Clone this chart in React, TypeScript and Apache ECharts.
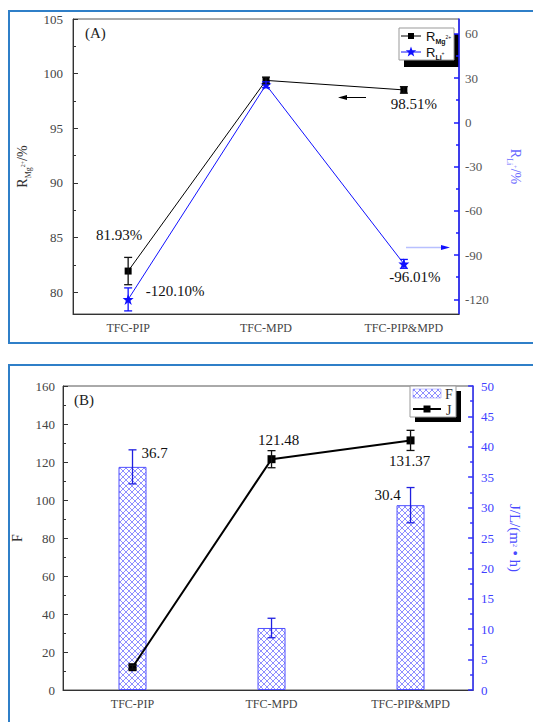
import React, { useEffect, useRef } from 'react';
import * as echarts from 'echarts';

// ---------- data ----------
const categories = ['TFC-PIP', 'TFC-MPD', 'TFC-PIP&MPD'];
const categoryPositions = [0, 1, 2];
// Panel A
const rMgValues = [81.93, 99.38, 98.51];
const rMgErrors = [1.25, 0.3, 0.3];
const rLiValues = [-120.1, 25.4, -96.01];
const rLiErrors = [7.8, 2.0, 3.0];
// Panel B
const fluxBarValues = [36.7, 10.2, 30.4];
const fluxBarErrors = [2.8, 1.6, 2.9];
const fLineValues = [12, 121.48, 131.37];
const fLineErrors = [1.0, 4.5, 5.3];
// axis ranges and tick values
const axisALeftRange = [78, 105];
const axisALeftTicks = [80, 85, 90, 95, 100, 105];
const axisALeftMinor = [82.5, 87.5, 92.5, 97.5, 102.5];
const axisARightRange = [-130, 70];
const axisARightTicks = [-120, -90, -60, -30, 0, 30, 60];
const axisARightMinor = [-105, -75, -45, -15, 15, 45];
const axisBLeft = [0, 160, 20];
const axisBRight = [0, 50, 5];

const SERIF = '"Liberation Serif", "Times New Roman", serif';
const SANS = '"Liberation Sans", Arial, sans-serif';
const STAR = 'path://M12,0 L15,9 L24,9 L17,14.5 L20,23.5 L12,18 L4,23.5 L7,14.5 L0,9 L9,9 Z';

function errorSeries(values: number[], errs: number[], xIdx: number, yIdx: number, color: string, cap: number) {
  return {
    type: 'custom',
    xAxisIndex: xIdx,
    yAxisIndex: yIdx,
    z: 6,
    silent: true,
    encode: { x: 0, y: 1 },
    renderItem: (params: any, api: any) => {
      const x = api.value(0);
      const y = api.value(1);
      const e = api.value(2);
      const hi = api.coord([x, y + e]);
      const lo = api.coord([x, y - e]);
      const style = { stroke: color, lineWidth: 1.3 };
      return {
        type: 'group',
        children: [
          { type: 'line', shape: { x1: hi[0], y1: hi[1], x2: lo[0], y2: lo[1] }, style },
          { type: 'line', shape: { x1: hi[0] - cap, y1: hi[1], x2: hi[0] + cap, y2: hi[1] }, style },
          { type: 'line', shape: { x1: lo[0] - cap, y1: lo[1], x2: lo[0] + cap, y2: lo[1] }, style },
        ],
      };
    },
    data: values.map((v, i) => [categoryPositions[i], v, errs[i]]),
  };
}

function makePattern() {
  const c = document.createElement('canvas');
  c.width = 6;
  c.height = 6;
  const ctx = c.getContext('2d') as CanvasRenderingContext2D;
  ctx.fillStyle = '#ffffff';
  ctx.fillRect(0, 0, 6, 6);
  ctx.strokeStyle = '#8f8fff';
  ctx.lineWidth = 1;
  ctx.beginPath();
  ctx.moveTo(0, 0);
  ctx.lineTo(6, 6);
  ctx.moveTo(6, 0);
  ctx.lineTo(0, 6);
  ctx.stroke();
  return { image: c.toDataURL(), repeat: 'repeat', imageWidth: 6, imageHeight: 6 };
}

function starPoints(cx: number, cy: number, r: number, ri: number) {
  const pts: number[][] = [];
  for (let k = 0; k < 10; k++) {
    const a = -Math.PI / 2 + (k * Math.PI) / 5;
    const rr = k % 2 === 0 ? r : ri;
    pts.push([cx + rr * Math.cos(a), cy + rr * Math.sin(a)]);
  }
  return pts;
}

const catFormatter = (v: number) => {
  const i = categoryPositions.indexOf(Math.round(v));
  return i >= 0 && Math.abs(v - Math.round(v)) < 1e-6 ? categories[i] : '';
};

export default function App() {
  const ref = useRef<HTMLDivElement>(null);
  useEffect(() => {
    if (!ref.current) return;
    const chart = echarts.init(ref.current, null, { renderer: 'svg' });
    const pattern = makePattern();

    const tickLabel = { fontFamily: SERIF, fontSize: 13, color: '#444' };
    const nameRich = {
      s: { fontSize: 8, fontFamily: SERIF, verticalAlign: 'bottom', lineHeight: 20 },
      t: { fontSize: 6, fontFamily: SERIF, verticalAlign: 'bottom', lineHeight: 20, padding: [0, 0, 7, 0] },
    };
    const legendRich = {
      s: { fontFamily: SANS, fontSize: 7, fontWeight: 'bold', verticalAlign: 'bottom', lineHeight: 18 },
      t: { fontFamily: SANS, fontSize: 5, verticalAlign: 'bottom', lineHeight: 18, padding: [0, 0, 6, 0] },
    };

    const xBase = (grid: number, min: number, max: number, margin: number) => ({
      type: 'value',
      gridIndex: grid,
      min,
      max,
      axisLine: { show: true, onZero: false, lineStyle: { color: '#333', width: 1 } },
      axisTick: { show: false },
      splitLine: { show: false },
      axisLabel: { ...tickLabel, fontSize: 12, color: '#444', margin, customValues: categoryPositions, formatter: catFormatter },
    });

    const option: any = {
      animation: false,
      backgroundColor: '#ffffff',
      grid: [
        { left: 73, right: 62, top: 19, height: 295, show: true, borderColor: '#555', borderWidth: 1, backgroundColor: 'transparent' },
        { left: 63, right: 58, top: 386, height: 304, show: true, borderColor: '#555', borderWidth: 1, backgroundColor: 'transparent' },
      ],
      xAxis: [xBase(0, -0.4, 2.4, 8), xBase(1, -0.5, 2.45, 8)],
      yAxis: [
        // 0: panel A left
        {
          type: 'value', gridIndex: 0, position: 'left',
          min: axisALeftRange[0], max: axisALeftRange[1],
          axisLine: { show: true, onZero: false, lineStyle: { color: '#333' } },
          axisTick: { show: true, inside: true, length: 5, customValues: axisALeftTicks, lineStyle: { color: '#333' } },
          splitLine: { show: false },
          axisLabel: { ...tickLabel, margin: 10, customValues: axisALeftTicks },
          name: 'R{s|Mg}{t|2+}/%',
          nameLocation: 'middle',
          nameGap: 38,
          nameTextStyle: { fontFamily: SERIF, fontSize: 14, color: '#333', lineHeight: 20, rich: nameRich },
        },
        // 1: panel A right
        {
          type: 'value', gridIndex: 0, position: 'right',
          min: axisARightRange[0], max: axisARightRange[1],
          axisLine: { show: true, onZero: false, lineStyle: { color: '#1a1aff', width: 1.5 } },
          axisTick: { show: true, inside: true, length: 5, customValues: axisARightTicks, lineStyle: { color: '#1a1aff', width: 1.5 } },
          splitLine: { show: false },
          axisLabel: { ...tickLabel, color: '#555', margin: 6, customValues: axisARightTicks },
          name: 'R{s|Li}{t|+}/%',
          nameLocation: 'middle',
          nameRotate: -90,
          nameGap: 46,
          nameTextStyle: { fontFamily: SERIF, fontSize: 14, color: '#6a6aff', lineHeight: 20, rich: nameRich },
        },
        // 2: panel A left minor ticks
        {
          type: 'value', gridIndex: 0, position: 'left',
          min: axisALeftRange[0], max: axisALeftRange[1],
          axisLine: { show: false, onZero: false }, axisLabel: { show: false }, splitLine: { show: false },
          axisTick: { show: true, inside: true, length: 3, customValues: axisALeftMinor, lineStyle: { color: '#333' } },
        },
        // 3: panel A right minor ticks
        {
          type: 'value', gridIndex: 0, position: 'right',
          min: axisARightRange[0], max: axisARightRange[1],
          axisLine: { show: false, onZero: false }, axisLabel: { show: false }, splitLine: { show: false },
          axisTick: { show: true, inside: true, length: 3, customValues: axisARightMinor, lineStyle: { color: '#1a1aff', width: 1.5 } },
        },
        // 4: panel B left
        {
          type: 'value', gridIndex: 1, position: 'left',
          min: axisBLeft[0], max: axisBLeft[1], interval: axisBLeft[2],
          axisLine: { show: true, onZero: false, lineStyle: { color: '#333' } },
          axisTick: { show: true, inside: true, length: 5, lineStyle: { color: '#333' } },
          minorTick: { show: true, splitNumber: 2, length: 3, lineStyle: { color: '#333' } },
          splitLine: { show: false },
          axisLabel: { ...tickLabel, margin: 8 },
          name: 'F',
          nameLocation: 'middle',
          nameGap: 36,
          nameTextStyle: { fontFamily: SERIF, fontSize: 14, color: '#333' },
        },
        // 5: panel B right
        {
          type: 'value', gridIndex: 1, position: 'right',
          min: axisBRight[0], max: axisBRight[1], interval: axisBRight[2],
          axisLine: { show: true, onZero: false, lineStyle: { color: '#3333ff', width: 1.5 } },
          axisTick: { show: true, inside: true, length: 5, lineStyle: { color: '#3333ff', width: 1.5 } },
          minorTick: { show: true, splitNumber: 2, length: 3, lineStyle: { color: '#3333ff', width: 1.5 } },
          splitLine: { show: false },
          axisLabel: { ...tickLabel, color: '#4040ff', margin: 8 },
          name: 'J/L/(m{t|2} • h)',
          nameLocation: 'middle',
          nameRotate: -90,
          nameGap: 28,
          nameTextStyle: { fontFamily: SERIF, fontSize: 15, color: '#4a4aff', lineHeight: 20, rich: nameRich },
        },
      ],
      series: [
        {
          type: 'line', name: 'RMg', xAxisIndex: 0, yAxisIndex: 0, z: 3,
          symbol: 'rect', symbolSize: 7,
          lineStyle: { color: '#000', width: 1 },
          itemStyle: { color: '#000' },
          label: { show: false, fontFamily: SERIF, fontSize: 15, color: '#111', formatter: (p: any) => `${p.value[1].toFixed(2)}%` },
          data: rMgValues.map((v, i) => {
            const item: any = { value: [categoryPositions[i], v] };
            if (i === 0) item.label = { show: true, position: 'top', distance: 0, offset: [-9, -25] };
            if (i === 2) item.label = { show: true, position: 'bottom', distance: 0, offset: [10, 3] };
            return item;
          }),
        },
        {
          type: 'line', name: 'RLi', xAxisIndex: 0, yAxisIndex: 1, z: 4,
          symbol: STAR, symbolSize: 11,
          lineStyle: { color: '#1010ff', width: 1 },
          itemStyle: { color: '#1010ff' },
          label: { show: false, fontFamily: SERIF, fontSize: 15, color: '#111', formatter: (p: any) => `${p.value[1].toFixed(2)}%` },
          data: rLiValues.map((v, i) => {
            const item: any = { value: [categoryPositions[i], v] };
            if (i === 0) item.label = { show: true, position: 'right', distance: 0, offset: [12, -8] };
            if (i === 2) item.label = { show: true, position: 'bottom', distance: 0, offset: [11, 0] };
            return item;
          }),
        },
        errorSeries(rMgValues, rMgErrors, 0, 0, '#111', 4),
        errorSeries(rLiValues, rLiErrors, 0, 1, '#1010ff', 4),
        {
          type: 'bar', name: 'F', xAxisIndex: 1, yAxisIndex: 5, z: 2,
          barWidth: 28,
          itemStyle: { color: pattern, borderColor: '#5050ff', borderWidth: 1 },
          label: { show: false, fontFamily: SERIF, fontSize: 15, color: '#111', formatter: (p: any) => String(p.value[1]) },
          data: fluxBarValues.map((v, i) => {
            const item: any = { value: [categoryPositions[i], v] };
            if (i === 0) item.label = { show: true, position: 'top', distance: 0, offset: [22, -6] };
            if (i === 2) item.label = { show: true, position: 'top', distance: 0, offset: [-23, -3] };
            return item;
          }),
        },
        errorSeries(fluxBarValues, fluxBarErrors, 1, 5, '#2020e0', 4),
        {
          type: 'line', name: 'J', xAxisIndex: 1, yAxisIndex: 4, z: 4,
          symbol: 'rect', symbolSize: 8,
          lineStyle: { color: '#000', width: 2 },
          itemStyle: { color: '#000' },
          label: { show: false, fontFamily: SERIF, fontSize: 15, color: '#111', formatter: (p: any) => String(p.value[1]) },
          data: fLineValues.map((v, i) => {
            const item: any = { value: [categoryPositions[i], v] };
            if (i === 1) item.label = { show: true, position: 'top', distance: 0, offset: [7, -8] };
            if (i === 2) item.label = { show: true, position: 'bottom', distance: 0, offset: [-1, 9] };
            return item;
          }),
        },
        errorSeries(fLineValues, fLineErrors, 1, 4, '#111', 4),
      ],
      graphic: [
        // panel borders
        { type: 'rect', shape: { x: 9, y: 11, width: 540, height: 332 }, style: { fill: 'none', stroke: '#2f7fc8', lineWidth: 2 }, silent: true },
        { type: 'rect', shape: { x: 9, y: 365, width: 540, height: 400 }, style: { fill: 'none', stroke: '#2f7fc8', lineWidth: 2 }, silent: true },
        // panel tags
        { type: 'text', x: 85, y: 33, style: { text: '(A)', fontFamily: SERIF, fontSize: 15, fill: '#222', textVerticalAlign: 'middle' } },
        { type: 'text', x: 74, y: 400, style: { text: '(B)', fontFamily: SERIF, fontSize: 15, fill: '#222', textVerticalAlign: 'middle' } },
        // arrows panel A
        { type: 'line', shape: { x1: 366, y1: 97.5, x2: 344, y2: 97.5 }, style: { stroke: '#000', lineWidth: 1 } },
        { type: 'polygon', shape: { points: [[338, 97.5], [347, 95], [347, 100]] }, style: { fill: '#000' } },
        { type: 'line', shape: { x1: 406, y1: 247.5, x2: 443, y2: 247.5 }, style: { stroke: '#b8c0ff', lineWidth: 1.5 } },
        { type: 'polygon', shape: { points: [[450, 247.5], [441, 245], [441, 250]] }, style: { fill: '#1010ff' } },
        // legend A
        { type: 'rect', shape: { x: 404, y: 34, width: 55, height: 33 }, style: { fill: '#000' } },
        { type: 'rect', shape: { x: 399, y: 28, width: 55, height: 32 }, style: { fill: '#fff', stroke: '#999', lineWidth: 1 } },
        { type: 'line', shape: { x1: 401, y1: 36, x2: 421, y2: 36 }, style: { stroke: '#000', lineWidth: 1 } },
        { type: 'rect', shape: { x: 408, y: 33, width: 6, height: 6 }, style: { fill: '#000' } },
        { type: 'text', x: 426, y: 36, style: { text: 'R{s|Mg}{t|2+}', fontFamily: SANS, fontSize: 13, fill: '#111', textVerticalAlign: 'middle', lineHeight: 18, rich: legendRich } },
        { type: 'line', shape: { x1: 401, y1: 52, x2: 421, y2: 52 }, style: { stroke: '#1010ff', lineWidth: 1 } },
        { type: 'polygon', shape: { points: starPoints(411, 52, 5.5, 2.3) }, style: { fill: '#1010ff' } },
        { type: 'text', x: 426, y: 52, style: { text: 'R{s|Li}{t|+}', fontFamily: SANS, fontSize: 13, fill: '#111', textVerticalAlign: 'middle', lineHeight: 18, rich: legendRich } },
        // legend B
        { type: 'rect', shape: { x: 415, y: 391, width: 46, height: 31 }, style: { fill: '#000' } },
        { type: 'rect', shape: { x: 410, y: 386, width: 46, height: 31 }, style: { fill: '#fff', stroke: '#999', lineWidth: 1 } },
        { type: 'rect', shape: { x: 413, y: 389, width: 28, height: 9 }, style: { fill: pattern, stroke: '#8080ff', lineWidth: 0.5 } },
        { type: 'text', x: 445, y: 394, style: { text: 'F', fontFamily: SERIF, fontSize: 14, fill: '#333', textVerticalAlign: 'middle' } },
        { type: 'line', shape: { x1: 413, y1: 409, x2: 441, y2: 409 }, style: { stroke: '#000', lineWidth: 2 } },
        { type: 'rect', shape: { x: 423.5, y: 405.5, width: 7, height: 7 }, style: { fill: '#000' } },
        { type: 'text', x: 446, y: 410, style: { text: 'J', fontFamily: SERIF, fontSize: 14, fill: '#333', textVerticalAlign: 'middle' } },
      ],
    };
    chart.setOption(option);
    return () => chart.dispose();
  }, []);
  return <div ref={ref} style={{ position: 'fixed', left: 0, top: 0, width: 533, height: 722 }} />;
}
